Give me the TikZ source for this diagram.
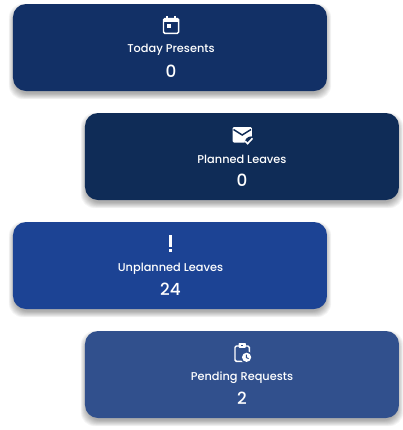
\documentclass[tikz,border=0pt]{standalone}
\usepackage{fontspec}
\setmainfont{Poppins Medium}
\definecolor{cardA}{RGB}{18,48,102}
\definecolor{cardB}{RGB}{15,44,87}
\definecolor{cardC}{RGB}{28,67,148}
\definecolor{cardD}{RGB}{49,80,141}
\newcommand{\cardbox}[3]{% x, y top, colour
  \foreach \g in {6,5,...,-2}{
    \fill[black,opacity=0.04,rounded corners=14*0.75pt]
      (#1-\g*0.7,#2+4-\g*0.7) rectangle (#1+314+\g*0.7,#2+87+4+\g*0.7);
  }
  \fill[#3,rounded corners=13*0.75pt] (#1,#2) rectangle (#1+314,#2+87);
}
\tikzset{
  x=0.75pt,y=-0.75pt,
  cardlabel/.style={text=white,inner sep=0pt,font=\fontsize{8.5pt}{10pt}\selectfont},
  cardnum/.style={text=white,inner sep=0pt,font=\fontsize{12.6pt}{14pt}\selectfont},
  iconline/.style={draw=white,line width=1.1pt}
}
\begin{document}
\begin{tikzpicture}
\useasboundingbox (0,0) rectangle (403,430);
\fill[white] (0,0) rectangle (403,430);
\cardbox{13}{4}{cardA}
\cardbox{85}{113}{cardB}
\cardbox{13}{222}{cardC}
\cardbox{85}{331}{cardD}

\node[cardlabel] (t1) at (171,50) {Today Presents};
\node[cardnum] (n1) at (171,71.5) {0};
\node[cardlabel] (t2) at (242,159) {Planned Leaves};
\node[cardnum] (n2) at (242,180.5) {0};
\node[cardlabel] (t3) at (170.5,268.7) {Unplanned Leaves};
\node[cardnum] (n3) at (170.5,289.5) {24};
\node[cardlabel] (t4) at (242,377.7) {Pending Requests};
\node[cardnum] (n4) at (242,398.5) {2};

% calendar
\draw[iconline,rounded corners=1pt] (163.5,18.5) rectangle (178.7,33.3);
\fill[white] (163.5,18.5) rectangle (178.7,22);
\fill[white] (166,15.7) rectangle (168,19);
\fill[white] (174.2,15.7) rectangle (176.2,19);
\fill[white] (166.8,23.5) rectangle (171.2,28.2);

% envelope with check
\fill[white,rounded corners=0.8pt] (232.7,127) rectangle (251.8,142.5);
\draw[cardB,line width=1.1pt,line join=miter] (233.5,129.5) -- (242.2,135) -- (251,129.5);
\fill[cardB] (251.2,143) circle (6.6);
\draw[white,line width=1.2pt] (245,141) -- (247.6,143.6) -- (252.5,138.3);

% exclamation
\fill[white] (168.7,235) rectangle (172.3,246.6);
\fill[white] (168.7,248.6) rectangle (172.3,251.8);

% clipboard with clock
\draw[iconline,rounded corners=1pt] (235,346) rectangle (249.3,361.3);
\fill[white,rounded corners=0.5pt] (238.7,343) rectangle (245.8,347.8);
\fill[cardD] (241.2,344.6) rectangle (243.2,346);
\fill[cardD] (246.6,357.3) circle (6);
\fill[white] (246.6,357.3) circle (4.6);
\draw[cardD,line width=0.7pt] (246.4,354.6) -- (246.4,357.6) -- (248.6,358.6);
\end{tikzpicture}
\end{document}
